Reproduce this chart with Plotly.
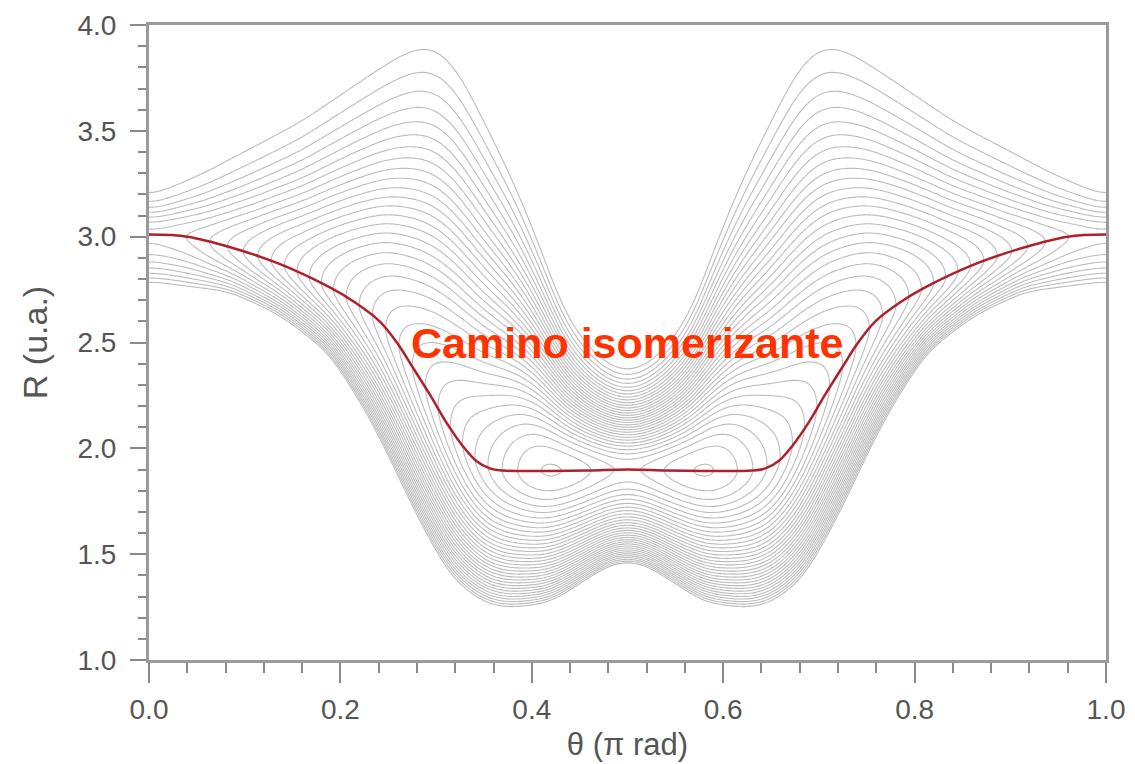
import numpy as np
import plotly.graph_objects as go

# --- values ---
# minimum-energy (isomerization) path R(theta)
path_theta = [0.0, 0.04, 0.085, 0.137, 0.189, 0.215, 0.241, 0.259, 0.276, 0.294, 0.311, 0.328, 0.342,
              0.356, 0.37, 0.42, 0.46, 0.5, 0.54, 0.58, 0.63,
              0.644, 0.658, 0.672, 0.689, 0.706, 0.724, 0.741, 0.759, 0.785, 0.811, 0.863, 0.915, 0.96, 1.0]
path_R = [3.01, 3.00, 2.95, 2.87, 2.76, 2.69, 2.60, 2.50, 2.38, 2.25, 2.12, 2.01, 1.94,
          1.905, 1.895, 1.893, 1.895, 1.90, 1.895, 1.893, 1.895,
          1.905, 1.94, 2.01, 2.12, 2.25, 2.38, 2.50, 2.60, 2.69, 2.76, 2.87, 2.95, 3.00, 3.01]

# outermost contour above the path
top_theta = [0.0, 0.053, 0.158, 0.22, 0.26, 0.285, 0.305, 0.325, 0.346, 0.38, 0.409, 0.433, 0.46, 0.48, 0.5,
             0.52, 0.54, 0.567, 0.591, 0.62, 0.654, 0.675, 0.695, 0.715, 0.74, 0.78, 0.842, 0.947, 1.0]
top_R = [3.19, 3.29, 3.54, 3.73, 3.85, 3.90, 3.88, 3.77, 3.58, 3.27, 2.95, 2.64, 2.47, 2.39, 2.36,
         2.39, 2.47, 2.64, 2.95, 3.27, 3.58, 3.77, 3.88, 3.90, 3.85, 3.73, 3.54, 3.29, 3.19]

# outermost contour below the path
bot_theta = [0.0, 0.085, 0.137, 0.189, 0.234, 0.28, 0.315, 0.349, 0.374, 0.419, 0.45, 0.48, 0.5,
             0.52, 0.55, 0.581, 0.626, 0.651, 0.685, 0.72, 0.766, 0.811, 0.863, 0.915, 1.0]
bot_R = [2.79, 2.74, 2.63, 2.45, 2.12, 1.68, 1.39, 1.27, 1.245, 1.27, 1.36, 1.45, 1.47,
         1.45, 1.36, 1.27, 1.245, 1.27, 1.39, 1.68, 2.12, 2.45, 2.63, 2.74, 2.79]

# relative energy along the path (contour level units, outermost contour = 1)
e_theta = [0.0, 0.05, 0.1, 0.15, 0.2, 0.25, 0.3, 0.35, 0.4, 0.42, 0.45, 0.5,
           0.55, 0.58, 0.6, 0.65, 0.7, 0.75, 0.8, 0.85, 0.9, 0.95, 1.0]
e_val = [0.85, 0.82, 0.75, 0.66, 0.56, 0.47, 0.38, 0.28, 0.20, 0.19, 0.21, 0.27,
         0.21, 0.19, 0.20, 0.28, 0.38, 0.47, 0.56, 0.66, 0.75, 0.82, 0.85]

x_ticks = [0.0, 0.2, 0.4, 0.6, 0.8, 1.0]
y_ticks = [1.0, 1.5, 2.0, 2.5, 3.0, 3.5, 4.0]
label_text = "Camino isomerizante"

# --- build the surface from the read profiles ---
th = np.linspace(0, 1, 401)
rr = np.linspace(1, 4, 601)


def smooth(y, w=7):
    k = np.exp(-0.5 * (np.arange(-3 * w, 3 * w + 1) / w) ** 2)
    k /= k.sum()
    yp = np.pad(y, 3 * w, mode="reflect")
    return np.convolve(yp, k, mode="valid")


Rp = smooth(np.interp(th, path_theta, path_R), 4)
Rt = smooth(np.interp(th, top_theta, top_R), 5)
Rb = smooth(np.interp(th, bot_theta, bot_R), 5)
E = smooth(np.interp(th, e_theta, e_val), 6)

TH, RR = np.meshgrid(th, rr)
RP = Rp[None, :]
RT = Rt[None, :]
RB = Rb[None, :]
EE = E[None, :]
a = 2.2
d_up = np.clip((RR - RP) / (RT - RP), 0, None)
d_dn = np.clip((RP - RR) / (RP - RB), 0, None)
f_up = (1 - np.exp(-a * d_up ** 2)) / (1 - np.exp(-a))
f_dn = d_dn ** 1.8
Z = np.where(RR >= RP, EE + (1 - EE) * f_up, EE + (1 - EE) * f_dn)

FONT = "Liberation Sans, Arial, sans-serif"

fig = go.Figure()
fig.add_trace(go.Contour(
    x=th, y=rr, z=Z,
    contours=dict(start=0.025, end=1.0, size=0.025, coloring="none"),
    line=dict(color="#bcbcbc", width=1.1, smoothing=0.8),
    showscale=False, hoverinfo="skip",
))
fig.add_trace(go.Scatter(
    x=path_theta, y=path_R, mode="lines",
    line=dict(color="#b0202c", width=2.5, shape="spline", smoothing=1.0),
    hoverinfo="skip", showlegend=False,
))

fig.add_annotation(
    x=0.5, y=2.5, xref="x", yref="y", text="<b>%s</b>" % label_text, showarrow=False,
    font=dict(family=FONT, size=43, color="#ff3300"),
)

axis_common = dict(
    showline=True, linecolor="#9a9a9a", linewidth=3, mirror=True,
    ticks="outside", tickcolor="#8a8a8a", tickwidth=2,
    showgrid=False, zeroline=False, automargin=False,
    tickfont=dict(family=FONT, size=28, color="#555555"),
)

fig.update_xaxes(
    range=[0, 1], tickvals=x_ticks, ticktext=["%.1f" % v for v in x_ticks], ticklen=20,
    ticklabelstandoff=2,
    minor=dict(dtick=0.04, ticklen=10, tickcolor="#8a8a8a", tickwidth=2, ticks="outside"),
    title=dict(text="θ (π rad)", standoff=10,
               font=dict(family=FONT, size=31, color="#555555")),
    **axis_common,
)
fig.update_yaxes(
    range=[1, 4], tickvals=y_ticks, ticktext=["%.1f" % v for v in y_ticks], ticklen=16,
    ticklabelstandoff=8,
    minor=dict(dtick=0.1, ticklen=8, tickcolor="#8a8a8a", tickwidth=2, ticks="outside"),
    title=dict(text="R (u.a.)", standoff=20,
               font=dict(family=FONT, size=34, color="#555555")),
    **axis_common,
)

fig.update_layout(
    width=1135, height=764,
    margin=dict(l=141, r=37, t=17, b=112),
    paper_bgcolor="white", plot_bgcolor="white",
    showlegend=False,
)

fig.write_html("out.html")
